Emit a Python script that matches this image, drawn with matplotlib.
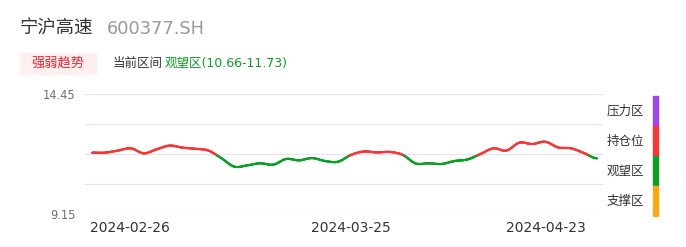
import numpy as np
import matplotlib
matplotlib.use("Agg")
import matplotlib.pyplot as plt
from matplotlib.collections import LineCollection

plt.rcParams['font.family'] = ['DejaVu Sans', 'Noto Sans CJK SC']

# data
stock_name = "宁沪高速"
stock_code = "600377.SH"
zone_low, zone_high = 10.66, 11.73
prices = [11.86, 11.86, 11.95, 12.05, 11.83, 12.01, 12.17, 12.08, 12.03, 11.95,
          11.61, 11.24, 11.30, 11.39, 11.33, 11.58, 11.52, 11.62, 11.49, 11.46,
          11.76, 11.91, 11.87, 11.89, 11.76, 11.38, 11.39, 11.36, 11.49, 11.56,
          11.80, 12.05, 11.95, 12.30, 12.24, 12.34, 12.09, 12.05, 11.84, 11.61]
tick_idx = [0, 20, 39]
tick_labels = ["2024-02-26", "2024-03-25", "2024-04-23"]
y_min, y_max = 9.15, 14.45
legend_names = ["压力区", "持仓位", "观望区", "支撑区"]
legend_colors = ["#a044f2", "#fc3434", "#0b9f23", "#ffa70f"]

RED = "#fc3434"
GREEN = "#0b9f23"


def smooth(y, n=24, t=0.5):
    # cubic hermite with catmull-rom style tangents (for drawing only)
    y = np.asarray(y, float)
    m = np.zeros_like(y)
    m[1:-1] = t * (y[2:] - y[:-2])
    xs, ys = [], []
    for i in range(len(y) - 1):
        s = np.linspace(0, 1, n, endpoint=False)
        h00 = 2 * s**3 - 3 * s**2 + 1
        h10 = s**3 - 2 * s**2 + s
        h01 = -2 * s**3 + 3 * s**2
        h11 = s**3 - s**2
        ys.append(h00 * y[i] + h10 * m[i] + h01 * y[i + 1] + h11 * m[i + 1])
        xs.append(i + s)
    xs.append([len(y) - 1])
    ys.append([y[-1]])
    return np.concatenate(xs), np.concatenate(ys)


fig = plt.figure(figsize=(6.86, 2.47), dpi=100)
ax = fig.add_axes([85 / 686, 33 / 247, 518 / 686, 120 / 247])

xs, ys = smooth(prices)
pts = np.column_stack([xs, ys]).reshape(-1, 1, 2)
segs = np.concatenate([pts[:-1], pts[1:]], axis=1)
mid = (ys[:-1] + ys[1:]) / 2
cols = [RED if v > zone_high else GREEN for v in mid]
lc = LineCollection(segs, colors=cols, linewidths=1.6, capstyle='round', zorder=3)
ax.add_collection(lc)

ax.set_xlim(-0.54, len(prices) - 1 + 0.46)
ax.set_ylim(y_min, y_max)
grid_vals = np.linspace(y_min, y_max, 5)
ax.set_yticks(grid_vals, labels=["9.15", "", "", "", "14.45"])
ax.tick_params(axis='y', length=0, pad=6.5, labelsize=8.3, labelcolor="#6e7079")
ax.grid(axis='y', color="#e0e6f1", linewidth=0.8)
ax.set_axisbelow(True)
for s in ax.spines.values():
    s.set_visible(False)
ax.set_xticks([])

# x labels: first left-aligned, middle centred, last right-aligned
xt = ax.get_xaxis_transform()
aligns = ["left", "center", "right"]
offs = [-0.15, 0, -0.9]
for i, lab, ha, o in zip(tick_idx, tick_labels, aligns, offs):
    ax.text(i + o, -0.115, lab, transform=xt, ha=ha, va='center',
            fontsize=10, color="#333333")

# header
fig.text(20 / 686, 1 - 29 / 247, stock_name, fontsize=13.2, color="#333333",
         va='center', ha='left', family=['Noto Sans CJK SC'])
fig.text(107 / 686, 1 - 29 / 247, stock_code, fontsize=12.8, color="#999999",
         va='center', ha='left')
fig.patches.append(plt.Rectangle((20 / 686, 1 - 74 / 247), 76 / 686, 21 / 247,
                                 transform=fig.transFigure, color="#fdf0ee", zorder=0))
fig.text(58 / 686, 1 - 63 / 247, "强弱趋势", fontsize=9.5, color="#f5222d",
         va='center', ha='center', family=['Noto Sans CJK SC'])
fig.text(113 / 686, 1 - 63 / 247, "当前区间", fontsize=9, color="#333333",
         va='center', ha='left', family=['Noto Sans CJK SC'])
fig.text(165 / 686, 1 - 63 / 247, "观望区(%.2f-%.2f)" % (zone_low, zone_high),
         fontsize=9, color="#0b9f23", va='center', ha='left',
         family=['DejaVu Sans', 'Noto Sans CJK SC'])

# right-hand zone legend
seg_h = 30
top = 96
for k, (name, c) in enumerate(zip(legend_names, legend_colors)):
    y0 = top + k * seg_h
    fig.patches.append(plt.Rectangle((653 / 686, 1 - (y0 + seg_h) / 247), 5 / 686,
                                     seg_h / 247, transform=fig.transFigure,
                                     color=c, zorder=1))
    fig.text(607 / 686, 1 - (y0 + 15) / 247, name, fontsize=9, color="#333333",
             va='center', ha='left', family=['Noto Sans CJK SC'])

fig.savefig("out.png", dpi=100)
